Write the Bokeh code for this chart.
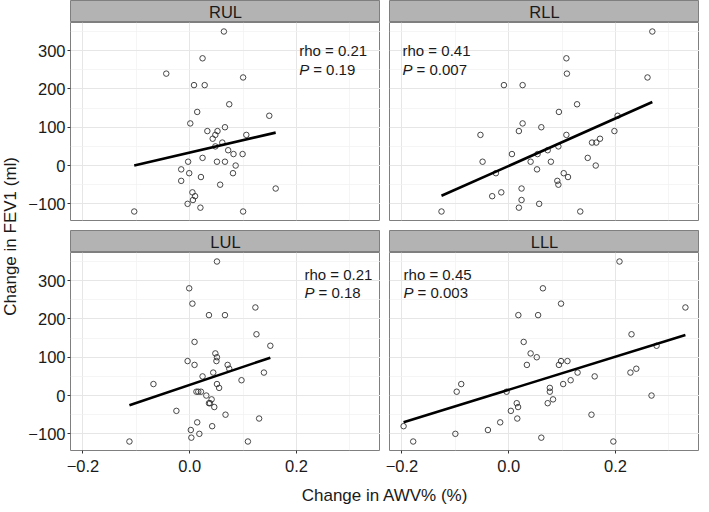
import math
from bokeh.plotting import figure
from bokeh.layouts import row, column
from bokeh.models import Range1d, LinearAxis, Grid, FixedTicker, CustomJSTickFormatter
from bokeh.core.properties import value
from bokeh.embed import file_html
from bokeh.resources import INLINE

# ---------------- data ----------------
lobes = ["RUL", "RLL", "LUL", "LLL"]

rul_x = [0.064, 0.024, -0.044, 0.100, 0.008, 0.028, 0.074, 0.014, 0.149, 0.001,
         0.066, 0.033, 0.052, 0.106, 0.048, 0.043, 0.061, 0.048, 0.072, 0.082,
         0.099, 0.024, -0.003, 0.051, 0.066, 0.086, -0.016, -0.001, 0.081, 0.021,
         -0.016, 0.057, 0.161, 0.005, 0.010, 0.006, -0.004, 0.020, -0.104, 0.100]
rul_y = [350, 280, 240, 230, 210, 210, 160, 140, 130, 110,
         100, 90, 90, 80, 80, 70, 60, 50, 40, 30,
         30, 20, 10, 10, 10, 0, -10, -20, -20, -30,
         -40, -50, -60, -70, -80, -90, -100, -110, -120, -120]

rll_x = [0.269, 0.108, 0.109, 0.260, -0.009, 0.026, 0.128, 0.094, 0.204, 0.026,
         0.061, 0.019, 0.198, -0.053, 0.108, 0.171, 0.156, 0.164, 0.093, 0.073,
         0.006, 0.054, 0.148, -0.049, 0.041, 0.079, 0.163, 0.053, -0.024, 0.103,
         0.111, 0.091, 0.093, 0.024, -0.014, -0.031, 0.024, 0.057, 0.019, -0.126, 0.134]
rll_y = [350, 280, 240, 230, 210, 210, 160, 140, 130, 110,
         100, 90, 90, 80, 80, 70, 60, 60, 50, 40,
         30, 30, 20, 10, 10, 10, 0, -10, -20, -20,
         -30, -40, -50, -60, -70, -80, -90, -100, -110, -120, -120]

lul_x = [0.051, -0.001, 0.005, 0.123, 0.036, 0.066, 0.125, 0.009, 0.151, 0.048,
         0.051, -0.004, 0.050, 0.009, 0.071, 0.074, 0.044, 0.139, 0.024, 0.097,
         -0.068, 0.051, 0.055, 0.0125, 0.016, 0.021, 0.031, 0.041, 0.036, 0.038,
         0.046, -0.025, 0.067, 0.130, 0.014, 0.042, 0.002, 0.018, 0.003, -0.113, 0.109]
lul_y = [350, 280, 240, 230, 210, 210, 160, 140, 130, 110,
         100, 90, 90, 80, 80, 70, 60, 60, 50, 40,
         30, 30, 20, 10, 10, 10, 0, -10, -20, -20,
         -30, -40, -50, -60, -70, -80, -90, -100, -110, -120, -120]

lll_x = [0.2075, 0.064, 0.098, 0.331, 0.018, 0.055, 0.230, 0.028, 0.277, 0.041,
         0.0525, 0.098, 0.110, 0.034, 0.094, 0.239, 0.129, 0.228, 0.161, 0.116,
         -0.089, 0.102, 0.077, -0.0975, -0.004, 0.077, 0.2675, 0.083, 0.015, 0.073,
         0.0175, 0.004, 0.155, 0.016, -0.016, -0.197, -0.039, -0.100, 0.061, -0.179, 0.196]
lll_y = [350, 280, 240, 230, 210, 210, 160, 140, 130, 110,
         100, 90, 90, 80, 80, 70, 60, 60, 50, 40,
         30, 30, 20, 10, 10, 10, 0, -10, -20, -20,
         -30, -40, -50, -60, -70, -80, -90, -100, -110, -120, -120]

rho_text = ["0.21", "0.41", "0.21", "0.45"]
p_text = ["0.19", "0.007", "0.18", "0.003"]
fit_slope = [324.5, 620.0, 471.0, 432.0]
fit_intercept = [33.7, -0.9, 27.8, 15.1]

x_ticks = [-0.2, 0.0, 0.2]
x_minor = [-0.1, 0.1, 0.3]
y_ticks = [-100, 0, 100, 200, 300]
y_minor = [-50, 50, 150, 250, 350]

x_label = "Change in AWV% (%)"
y_label = "Change in FEV1 (ml)"

xs = [rul_x, rll_x, lul_x, lll_x]
ys = [rul_y, rll_y, lul_y, lll_y]

# annotation placement (layout only)
ann_x = [0.205, -0.199, 0.215, -0.197]
ann_y1 = [300, 300, 317, 317]
ann_y2 = [252, 252, 270, 270]

# ---------------- style ----------------
FONT = value("Liberation Sans")
FONT_NAME = "Liberation Sans"
TXT = "#1a1a1a"
BORDER = "#7f7f7f"
STRIP = "#b3b3b3"

allx = sum(xs, [])
ally = sum(ys, [])
xspan = max(allx) - min(allx)
yspan = max(ally) - min(ally)
XR = (min(allx) - 0.05 * xspan, max(allx) + 0.05 * xspan)
YR = (min(ally) - 0.05 * yspan, max(ally) + 0.05 * yspan)

YLAB_W = 20
FRAME_W = 310
FRAME_H = 198
LEFT_B = 50
GAP_X = 9
GAP_Y = 10
BOT_B = 28
STRIP_H = 22
TOTAL_H = 504

xfmt = CustomJSTickFormatter(code="return (tick < 0 ? '\u2212' : '') + Math.abs(tick).toFixed(1);")
yfmt = CustomJSTickFormatter(code="return (tick < 0 ? '\u2212' : '') + Math.abs(tick).toFixed(0);")


def base_fig(width, height, xr, yr, **borders):
    kw = dict(min_border_left=0, min_border_right=0, min_border_top=0, min_border_bottom=0)
    kw.update(borders)
    f = figure(width=width, height=height, x_range=Range1d(*xr), y_range=Range1d(*yr),
               x_axis_location=None, y_axis_location=None, toolbar_location=None,
               tools="", output_backend="svg", **kw)
    f.center = [r for r in f.center if not isinstance(r, Grid)]
    return f


def make_strip(label, left):
    s = base_fig(left + FRAME_W, STRIP_H, (0, 1), (0, 1), min_border_left=left)
    s.background_fill_color = STRIP
    s.outline_line_color = BORDER
    s.outline_line_width = 1
    s.text(x=[0.5], y=[0.5], text=[label], text_align="center", text_baseline="middle",
           text_font=FONT, text_font_size="16.5px", text_color=TXT)
    return s


def make_panel(i, left_col, bottom_row):
    left = LEFT_B if left_col else GAP_X
    bot = BOT_B if bottom_row else GAP_Y
    p = base_fig(left + FRAME_W, FRAME_H + bot, XR, YR, min_border_left=left, min_border_bottom=bot)
    p.background_fill_color = "white"
    p.outline_line_color = BORDER
    p.outline_line_width = 1
    p.add_layout(Grid(dimension=0, ticker=FixedTicker(ticks=x_ticks, minor_ticks=x_minor),
                      grid_line_color="#e6e6e6", grid_line_width=1,
                      minor_grid_line_color="#f0f0f0", minor_grid_line_width=0.7))
    p.add_layout(Grid(dimension=1, ticker=FixedTicker(ticks=y_ticks, minor_ticks=y_minor),
                      grid_line_color="#e6e6e6", grid_line_width=1,
                      minor_grid_line_color="#f0f0f0", minor_grid_line_width=0.7))
    if left_col:
        ax = LinearAxis(ticker=FixedTicker(ticks=y_ticks), formatter=yfmt,
                        axis_line_color=None, major_tick_out=3, major_tick_in=0,
                        minor_tick_out=0, minor_tick_in=0, major_tick_line_color="#333333",
                        major_label_standoff=2, major_label_text_font=FONT_NAME,
                        major_label_text_font_size="16.5px", major_label_text_color=TXT)
        p.add_layout(ax, "left")
    if bottom_row:
        ax = LinearAxis(ticker=FixedTicker(ticks=x_ticks), formatter=xfmt,
                        axis_line_color=None, major_tick_out=3, major_tick_in=0,
                        minor_tick_out=0, minor_tick_in=0, major_tick_line_color="#333333",
                        major_label_standoff=6, major_label_text_font=FONT_NAME,
                        major_label_text_font_size="16.5px", major_label_text_color=TXT)
        p.add_layout(ax, "below")

    x = xs[i]
    y = ys[i]
    p.scatter(x, y, marker="circle", size=5.5, fill_color=None, line_color="#333333", line_width=0.9)
    x0, x1 = min(x), max(x)
    p.line([x0, x1], [fit_intercept[i] + fit_slope[i] * x0, fit_intercept[i] + fit_slope[i] * x1],
           line_color="black", line_width=2.6)
    p.text(x=[ann_x[i]], y=[ann_y1[i]], text=["rho = " + rho_text[i]], text_align="left",
           text_baseline="middle", text_font=FONT, text_font_size="15px", text_color=TXT)
    p.text(x=[ann_x[i]], y=[ann_y2[i]], text=["P"], text_align="left",
           text_baseline="middle", text_font=FONT, text_font_size="15px", text_color=TXT,
           text_font_style="italic")
    p.text(x=[ann_x[i]], y=[ann_y2[i]], text=["= " + p_text[i]], text_align="left", x_offset=14,
           text_baseline="middle", text_font=FONT, text_font_size="15px", text_color=TXT)
    return p


strips = [make_strip(lobes[0], LEFT_B), make_strip(lobes[1], GAP_X),
          make_strip(lobes[2], LEFT_B), make_strip(lobes[3], GAP_X)]
panels = [make_panel(0, True, False), make_panel(1, False, False),
          make_panel(2, True, True), make_panel(3, False, True)]

grid_w = 2 * FRAME_W + LEFT_B + GAP_X
xlab_h = TOTAL_H - STRIP_H - (FRAME_H + GAP_Y) - STRIP_H - (FRAME_H + BOT_B)

ylab = base_fig(YLAB_W, TOTAL_H, (0, 1), (0, 1))
ylab.outline_line_color = None
ylab.text(x=[0.5], y=[0.532], text=[y_label], angle=math.pi / 2, text_align="center",
          text_baseline="middle", text_font=FONT, text_font_size="17px", text_color=TXT)

xlab = base_fig(grid_w, xlab_h, (0, 1), (0, 1))
xlab.outline_line_color = None
xlab.text(x=[(LEFT_B + grid_w) / 2 / grid_w], y=[0.33], text=[x_label], text_align="center",
          text_baseline="middle", text_font=FONT, text_font_size="17px", text_color=TXT)

layout = row(ylab, column(row(strips[0], strips[1]), row(panels[0], panels[1]),
                          row(strips[2], strips[3]), row(panels[2], panels[3]), xlab))

open("out.html", "w").write(file_html(layout, INLINE))
